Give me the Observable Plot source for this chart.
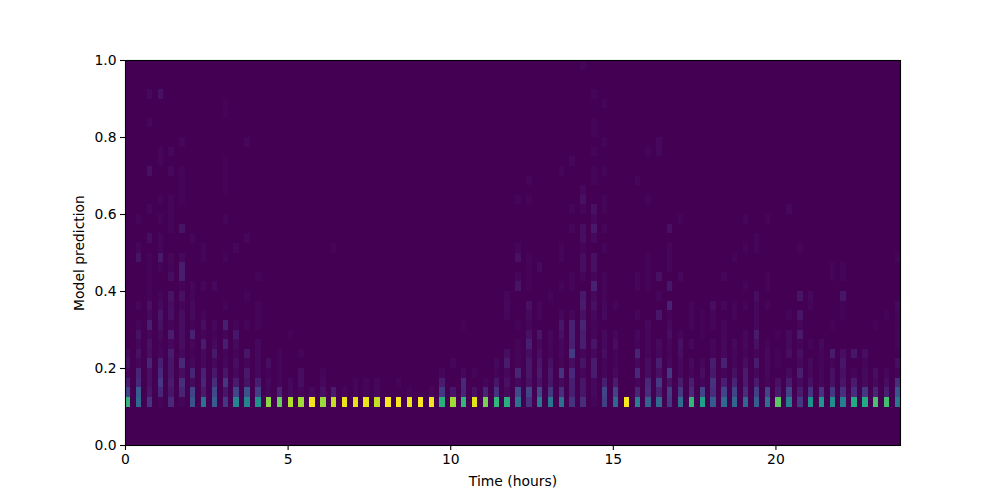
<!DOCTYPE html>
<html>
<head>
<meta charset="utf-8">
<style>html,body{margin:0;padding:0;background:#fff}svg{display:block}</style>
<script src="https://cdn.jsdelivr.net/npm/d3@7"></script>
<script src="https://cdn.jsdelivr.net/npm/@observablehq/plot@0.6"></script>
</head>
<body>
<div id="chart"></div>
<script>
// Histogram geometry
const timeStepHours = 1 / 3;
const timeBinHours = 1 / 6;
const timeMax = 23.83;
const predictionBin = 0.025;
const firstPredictionBin = 4; // the first entry of each column is the 0.100-0.125 bin
const xTicks = [0, 5, 10, 15, 20];
const yTicks = [0, 0.2, 0.4, 0.6, 0.8, 1];

// Colour position (0-100 along viridis) per column, from the 0.100 bin upward
const columns = [
  [70,30,12,5,8,6],
  [42,38,18,16,4,8,5,8,3,0,4,0,0,0,0,9,4,0,0,3],
  [22,10,8,8,16,7,8,4,14,6,8,2,2,2,2,3,0,7,0,0,4,0,0,0,8,0,0,0,0,4,0,0,5],
  [3,17,24,18,14,4,2,6,8,10,6,3,0,0,3,11,3,4,0,3,0,3,0,0,0,3,4,0,0,0,0,0,8],
  [18,10,12,10,10,12,5,13,3,8,7,9,0,7,3,4,0,0,3,3,3,3,0,0,5,0,5],
  [3,16,20,7,18,5,7,7,7,7,4,8,2,13,13,5,0,0,9,0,0,2,2,2,3,0,0,4],
  [35,30,6,16,5,2,4,15,3,6,6,3,4,0,0,0,0,4],
  [45,12,17,15,5,6,12,3,7,3,0,0,4,0,0,3,3],
  [38,32,20,11,6,11,6,2,5,0,0,0,5],
  [24,10,25,10,5,3,14,3,14,0,3,0,0,0,0,3,0,0,0,3,0,0,2,2,2,2,0,0,0,0,2,2],
  [52,30,12,5,7,3,6,10,3,0,0,0,0,0,0,0,4],
  [52,35,9,11,3,10,0,0,3,0,0,3,0,0,0,0,0,4,0,0,0,0,0,0,0,0,0,4],
  [57,28,14,5,5,5,5,0,3,3,3,0,0,3],
  [85,3,5,2,7],
  [80,15,3,3,3,3],
  [90,5,5,0,0,0,0,2],
  [88,3,7,7,0,3],
  [98,5],
  [87,8,5,3],
  [92,12,0,0,0,0,0,0,0,0,0,0,0,0,0,0,3],
  [97,4],
  [96,4,3],
  [97,3,3],
  [92,5,4],
  [99],
  [99,0,3],
  [97,3],
  [100],
  [98,4],
  [68,25,13,4],
  [88,10,0,0,4],
  [70,17,18,5,0,0,0,0,2],
  [96,8,0,3],
  [82,16,3],
  [70,22,10,3,5],
  [68,6,8,5,12,7,0,0,0,4,5,4],
  [45,32,5,16,3,3,3,0,2,0,0,0,9,4,0,8,3,0,0,0,0,3],
  [22,30,8,10,10,7,14,8,3,6,8,0,2,2,2,3,0,0,0,0,0,3,0,3],
  [48,32,9,12,10,7,5,10,0,3,3,0,0,0,6],
  [47,25,10,11,8,3,4,5,0,0,0,3],
  [45,20,6,22,3,5,5,8,10,5,0,0,3,0,0,3,3,0,0,0,0,0,0,0,3],
  [22,14,14,18,7,26,14,15,15,4,0,0,3,3,0,0,0,0,4,0,3,0,0,0,0,4],
  [20,10,10,4,9,3,14,13,16,8,12,11,0,3,7,7,3,7,7,0,3,8,5,0,0,0,0,0,0,0,0,0,0,0,0,3],
  [3,5,5,12,12,5,10,4,3,5,8,6,15,4,8,8,0,5,11,5,8,0,0,3,3,0,3,0,3,3,0,0,3],
  [28,30,14,4,3,7,5,6,0,6,5,3,3,3,0,0,3,0,4,0,3,3,0,0,3,0,0,3,0,0,0,3],
  [42,30,12,6,3,3,7,4,0,0,3],
  [99],
  [50,16,3,18,5,16,3,5,0,4,0,0,4,4,0,0,0,0,0,0,0,0,0,4],
  [40,20,18,7,7,4,4,4,5,0,0,0,3,3,3,3,0,0,0,0,0,3,0,0,0,0,3],
  [42,15,26,8,14,5,6,0,0,10,0,3,0,8,0,0,0,0,0,0,0,0,0,0,0,0,5,5],
  [25,27,9,25,5,3,4,7,6,2,15,0,10,0,4,4,4,0,8],
  [43,24,12,5,5,7,8,3,0,0,0,0,0,5,0,0,0,0,0,3],
  [70,18,14,3,6,0,5,0,3,3,3],
  [62,30,3,7,4,0,0,2,2,2],
  [37,20,22,11,13,3,4,0,3,3,7],
  [42,30,14,3,15,5,5,4,4,0,4,0,0,4],
  [41,30,16,8,3,4,6,0,0,3,3,0,0,0,0,3],
  [42,20,12,12,7,3,5,5,0,0,3,0,3,0,0,0,3,0,0,3],
  [38,28,12,5,12,3,8,12,5,5,5,7,0,0,0,0,3,3],
  [44,30,3,5,5,6,3,0,0,0,3,0,3,3,0,0,0,0,0,3],
  [78,12,8,0,2,2,0,2],
  [50,30,12,6,0,7,6,6,0,3,0,0,0,0,0,0,0,0,0,0,5],
  [24,12,6,14,5,7,3,11,4,10,0,9,0,0,0,0,3],
  [57,22,8,5,6,0,3,0,0,0,3,5],
  [60,22,4,4,3,3,6],
  [55,25,8,8,3,12,0,0,2,0,0,0,0,3,3],
  [50,21,10,8,10,7,0,0,0,2,2,10,0,3,3],
  [66,20,12,3,0,10],
  [66,25,6,6,3,7],
  [75,16,6,7,0,0,0,0,2],
  [74,14,7,4,0,0,0,0,0,2],
  [47,36,20,2,7,0,3,3,2,3,5,0,0,0,0,3]
];

// The low estimates read bright against the reference, so they are pulled down
const calibrate = d3.scaleLinear([0, 5, 30, 100], [0, 2, 20, 100]);

const cells = columns.flatMap((col, i) =>
  col.map((value, j) => ({
    t1: i * timeStepHours,
    t2: i * timeStepHours + timeBinHours,
    p1: (firstPredictionBin + j) * predictionBin,
    p2: (firstPredictionBin + j + 1) * predictionBin,
    value: calibrate(value)
  })).filter(d => d.value > 0)
);

const plot = Plot.plot({
  width: 1000,
  height: 500,
  marginLeft: 125,
  marginRight: 100,
  marginTop: 60,
  marginBottom: 55,
  style: {fontFamily: "DejaVu Sans", fontSize: "13.9px", color: "#000", background: "#fff"},
  x: {domain: [0, timeMax], label: null},
  y: {domain: [0, 1], label: null},
  color: {type: "linear", scheme: "viridis", domain: [0, 100]},
  marks: [
    Plot.rect([{v: 0}], {x1: () => 0, x2: () => timeMax, y1: () => 0, y2: () => 1, fill: "v"}),
    Plot.rect(cells, {x1: "t1", x2: "t2", y1: "p1", y2: "p2", fill: "value", shapeRendering: "crispEdges"}),
    Plot.frame({stroke: "#000", strokeWidth: 1.1}),
    Plot.axisX({ticks: xTicks, tickSize: 5, tickPadding: 4, tickFormat: d3.format("d"), strokeWidth: 1.1,
      label: "Time (hours)", labelAnchor: "center", labelArrow: "none", labelOffset: 40}),
    Plot.axisY({ticks: yTicks, tickSize: 5, tickPadding: 4, tickFormat: d3.format(".1f"), strokeWidth: 1.1,
      label: "Model prediction", labelAnchor: "center", labelArrow: "none", labelOffset: 51})
  ]
});
document.getElementById("chart").appendChild(plot);
</script>
</body>
</html>
